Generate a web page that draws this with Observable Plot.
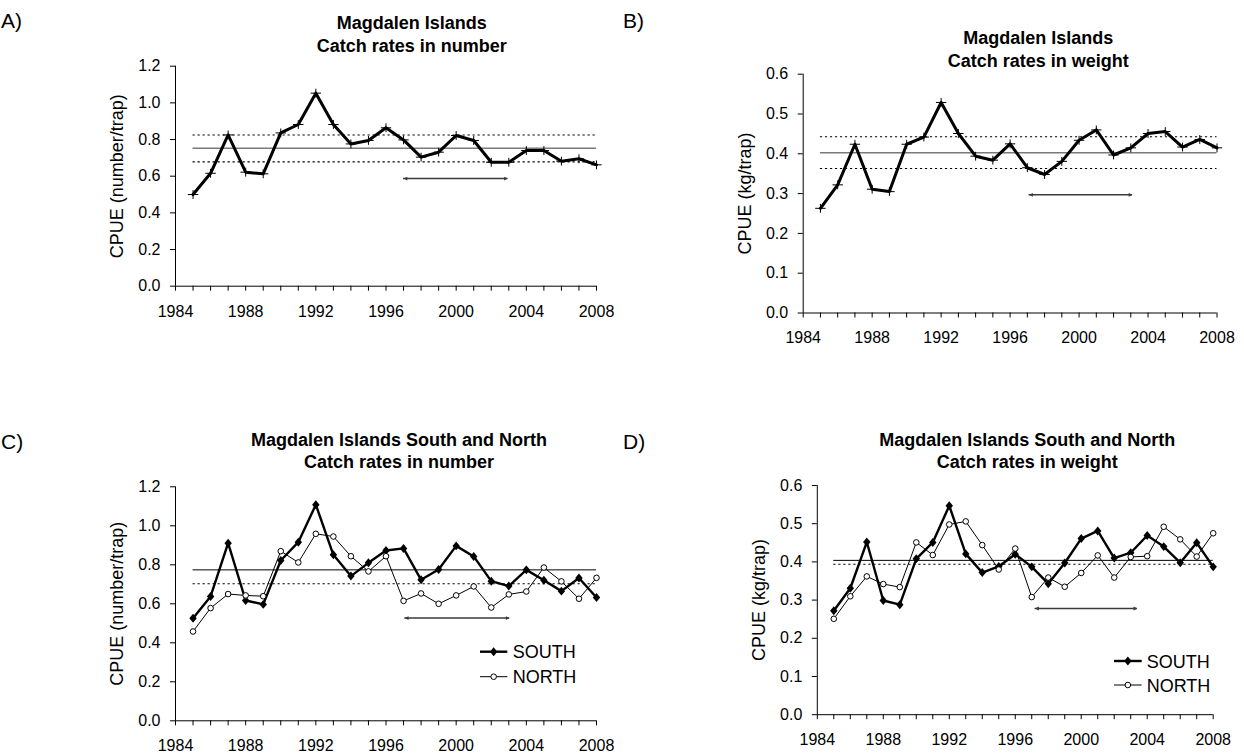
<!DOCTYPE html>
<html>
<head>
<meta charset="utf-8">
<script src="https://cdn.jsdelivr.net/npm/d3@7"></script>
<script src="https://cdn.jsdelivr.net/npm/@observablehq/plot@0.6"></script>
<style>
html, body { margin: 0; padding: 0; background: #fff; overflow: hidden; }
#root { position: relative; width: 1244px; height: 755px; font-family: "Liberation Sans", Arial, Helvetica, sans-serif; color: #000; }
.title { position: absolute; font-weight: bold; font-size: 18px; line-height: 22.5px; text-align: center; white-space: nowrap; transform: translateX(-50%); }
.letter { position: absolute; font-size: 21px; line-height: 24px; white-space: nowrap; }
</style>
</head>
<body>
<div id="root"></div>
<script>
// ---------------- data ----------------
const years = [1985, 1986, 1987, 1988, 1989, 1990, 1991, 1992, 1993, 1994, 1995, 1996,
               1997, 1998, 1999, 2000, 2001, 2002, 2003, 2004, 2005, 2006, 2007, 2008];

// A) Magdalen Islands, catch rates in number (number/trap)
const numberAll = [0.500, 0.616, 0.825, 0.622, 0.613, 0.836, 0.882, 1.053, 0.882, 0.776, 0.795, 0.864,
                   0.798, 0.704, 0.731, 0.822, 0.795, 0.676, 0.676, 0.740, 0.740, 0.682, 0.695, 0.662];
// B) Magdalen Islands, catch rates in weight (kg/trap)
const weightAll = [0.263, 0.322, 0.424, 0.311, 0.305, 0.424, 0.442, 0.529, 0.451, 0.394, 0.384, 0.425,
                   0.365, 0.348, 0.381, 0.434, 0.460, 0.397, 0.415, 0.451, 0.456, 0.417, 0.436, 0.415];
// C) South and North, number
const numberSouth = [0.526, 0.638, 0.911, 0.617, 0.597, 0.822, 0.916, 1.108, 0.851, 0.742, 0.810, 0.873,
                     0.884, 0.723, 0.776, 0.897, 0.843, 0.716, 0.691, 0.774, 0.721, 0.665, 0.732, 0.632];
const numberNorth = [0.458, 0.578, 0.650, 0.643, 0.639, 0.870, 0.812, 0.959, 0.945, 0.844, 0.766, 0.844,
                     0.615, 0.653, 0.600, 0.643, 0.689, 0.581, 0.648, 0.663, 0.786, 0.715, 0.626, 0.733];
// D) South and North, weight
const weightSouth = [0.272, 0.331, 0.452, 0.299, 0.288, 0.408, 0.451, 0.547, 0.421, 0.372, 0.388, 0.420,
                     0.387, 0.343, 0.397, 0.461, 0.481, 0.410, 0.424, 0.469, 0.440, 0.398, 0.450, 0.387];
const weightNorth = [0.251, 0.310, 0.362, 0.342, 0.334, 0.451, 0.418, 0.498, 0.506, 0.444, 0.380, 0.435,
                     0.308, 0.359, 0.335, 0.371, 0.417, 0.359, 0.413, 0.415, 0.492, 0.459, 0.414, 0.475];

// reference levels (mean = solid, bounds = dotted)
const refA = [{kind: "mean", y: 0.753}, {kind: "bound", y: 0.825}, {kind: "bound", y: 0.678}];
const refB = [{kind: "mean", y: 0.4025}, {kind: "bound", y: 0.443}, {kind: "bound", y: 0.363}];
const refC = [{kind: "mean", y: 0.774}, {kind: "bound", y: 0.703}];
const refD = [{kind: "mean", y: 0.404}, {kind: "bound", y: 0.394}];

// reference-period arrows: [start year, end year, level]
const arrowA = [1997.0, 2002.95, 0.587];
const arrowB = [1997.1, 2003.1, 0.297];
const arrowC = [1997.07, 2003.05, 0.527];
const arrowD = [1997.2, 2003.4, 0.278];

// ticks
const xLabelTicks = [1984, 1988, 1992, 1996, 2000, 2004, 2008];
const xMinorTicks = [1984, 1985, 1986, 1987, 1988, 1989, 1990, 1991, 1992, 1993, 1994, 1995, 1996,
                     1997, 1998, 1999, 2000, 2001, 2002, 2003, 2004, 2005, 2006, 2007, 2008];
const yTicksNumber = [0, 0.2, 0.4, 0.6, 0.8, 1.0, 1.2];
const yTicksWeight = [0, 0.1, 0.2, 0.3, 0.4, 0.5, 0.6];

const titles = {
  A: ["Magdalen Islands", "Catch rates in number"],
  B: ["Magdalen Islands", "Catch rates in weight"],
  C: ["Magdalen Islands South and North", "Catch rates in number"],
  D: ["Magdalen Islands South and North", "Catch rates in weight"]
};
const seriesNames = ["SOUTH", "NORTH"];

// ---------------- helpers ----------------
const FONT = "'Liberation Sans', Arial, Helvetica, sans-serif";
const root = document.getElementById("root");
const rows = (vals) => years.map((year, i) => ({year, value: vals[i]}));

const plusSymbol = {draw(c, s) { const r = Math.sqrt(s / Math.PI); c.moveTo(-r, 0); c.lineTo(r, 0); c.moveTo(0, -r * 0.85); c.lineTo(0, r * 0.85); }};
const diamondSymbol = {draw(c, s) { const r = Math.sqrt(s / Math.PI); c.moveTo(0, -r * 1.15); c.lineTo(r * 0.95, 0); c.lineTo(0, r * 1.15); c.lineTo(-r * 0.95, 0); c.closePath(); }};
const headSymbol = {draw(c, s) { const r = Math.sqrt(s / Math.PI); c.moveTo(0, 0); c.lineTo(-2 * r, -r); c.lineTo(-2 * r, r); c.closePath(); }};

function makePanel(cfg) {
  const x1 = years[0], x2 = years[years.length - 1];
  const refRows = cfg.refs.map((d) => ({...d, x1, x2}));
  const arr = [{x1: cfg.arrow[0], x2: cfg.arrow[1], y: cfg.arrow[2]}];
  const heads = [{x: cfg.arrow[1], y: cfg.arrow[2], rot: 0}, {x: cfg.arrow[0], y: cfg.arrow[2], rot: 180}];
  const marks = [
    Plot.ruleY(refRows.filter((d) => d.kind === "mean"), {y: "y", x1: "x1", x2: "x2", stroke: cfg.meanColor, strokeWidth: cfg.meanWidth}),
    Plot.ruleY(refRows.filter((d) => d.kind === "bound"), {y: "y", x1: "x1", x2: "x2", stroke: "#000", strokeWidth: 1.1, strokeDasharray: "2.2,2.8"}),
    Plot.ruleY(arr, {y: "y", x1: "x1", x2: "x2", stroke: "#3a3a3a", strokeWidth: 1.5}),
    Plot.dot(heads, {x: "x", y: "y", rotate: "rot", symbol: headSymbol, r: 1.9, fill: "#3a3a3a", stroke: "none"}),
    Plot.ruleX([1984], {stroke: "#000", strokeWidth: 1}),
    Plot.ruleY([0], {stroke: "#000", strokeWidth: 1}),
    Plot.axisX({ticks: xMinorTicks, tickSize: 5, tickPadding: 14,
      tickFormat: (d) => (xLabelTicks.includes(d) ? String(d) : ""), label: null, stroke: "#000"}),
    Plot.axisY({ticks: cfg.yTicks, tickSize: 5, tickPadding: 10, tickFormat: (d) => d.toFixed(1), label: null, stroke: "#000"}),
    Plot.axisY({ticks: [], tickSize: 0, label: cfg.yLabel, labelAnchor: "center", labelOffset: 65, labelArrow: false, fontSize: 18})
  ];
  if (cfg.single) {
    marks.push(
      Plot.line(rows(cfg.single), {x: "year", y: "value", stroke: "#000", strokeWidth: 3}),
      Plot.dot(rows(cfg.single), {x: "year", y: "value", symbol: plusSymbol, r: 5.2, stroke: "#000", strokeWidth: 1, fill: "none"})
    );
  } else {
    marks.push(
      Plot.line(rows(cfg.south), {x: "year", y: "value", stroke: "#000", strokeWidth: 2.4}),
      Plot.dot(rows(cfg.south), {x: "year", y: "value", symbol: diamondSymbol, r: 3.9, fill: "#000", stroke: "none"}),
      Plot.line(rows(cfg.north), {x: "year", y: "value", stroke: "#000", strokeWidth: 1}),
      Plot.dot(rows(cfg.north), {x: "year", y: "value", symbol: "circle", r: 2.8, fill: "#fff", stroke: "#000", strokeWidth: 1})
    );
  }
  const svg = Plot.plot({
    width: cfg.w, height: cfg.h,
    marginLeft: cfg.mL, marginRight: cfg.mR, marginTop: cfg.mT, marginBottom: cfg.mB,
    x: {domain: [1984, 2008]},
    y: {domain: cfg.yDomain},
    style: {fontFamily: FONT, fontSize: "16px", color: "#000", background: "transparent", overflow: "visible"},
    marks
  });
  svg.style.position = "absolute";
  svg.style.left = cfg.left + "px";
  svg.style.top = cfg.top + "px";
  root.appendChild(svg);
}

function addTitle(lines, cx, top) {
  const d = document.createElement("div");
  d.className = "title";
  d.style.left = cx + "px";
  d.style.top = top + "px";
  d.innerHTML = lines.join("<br>");
  root.appendChild(d);
}
function addLetter(text, left, top) {
  const d = document.createElement("div");
  d.className = "letter";
  d.style.left = left + "px";
  d.style.top = top + "px";
  d.textContent = text;
  root.appendChild(d);
}

// ---------------- panels ----------------
makePanel({left: 0, top: 0, w: 622, h: 377, mL: 175, mR: 26, mT: 65.7, mB: 91.3,
  yDomain: [0, 1.2], yTicks: yTicksNumber, yLabel: "CPUE (number/trap)",
  single: numberAll, refs: refA, arrow: arrowA, meanColor: "#7a7a7a", meanWidth: 1.5});
makePanel({left: 622, top: 0, w: 622, h: 377, mL: 180.7, mR: 27.5, mT: 73.7, mB: 64.5,
  yDomain: [0, 0.6], yTicks: yTicksWeight, yLabel: "CPUE (kg/trap)",
  single: weightAll, refs: refB, arrow: arrowB, meanColor: "#7a7a7a", meanWidth: 1.5});
makePanel({left: 0, top: 377, w: 622, h: 378, mL: 175, mR: 26, mT: 109.3, mB: 34.7,
  yDomain: [0, 1.2], yTicks: yTicksNumber, yLabel: "CPUE (number/trap)",
  south: numberSouth, north: numberNorth, refs: refC, arrow: arrowC, meanColor: "#000", meanWidth: 1});
makePanel({left: 622, top: 377, w: 622, h: 378, mL: 194.8, mR: 31.3, mT: 108, mB: 40.8,
  yDomain: [0, 0.6], yTicks: yTicksWeight, yLabel: "CPUE (kg/trap)",
  south: weightSouth, north: weightNorth, refs: refD, arrow: arrowD, meanColor: "#000", meanWidth: 1});

addTitle(titles.A, 411.7, 12);
addTitle(titles.B, 1038.3, 27);
addTitle(titles.C, 399, 428.5);
addTitle(titles.D, 1027.2, 428.5);

addLetter("A)", 1, 9);
addLetter("B)", 623, 9);
addLetter("C)", 1, 430);
addLetter("D)", 623, 430);

// ---------------- legends (C and D) ----------------
const overlay = d3.select(root).append("svg")
  .attr("width", 1244).attr("height", 755)
  .style("position", "absolute").style("left", "0px").style("top", "0px")
  .style("pointer-events", "none").style("font-family", FONT);

function legend(lx0, lx1, tx, ySouth, yNorth) {
  const mx = (lx0 + lx1) / 2;
  const g = overlay.append("g");
  // SOUTH
  g.append("line").attr("x1", lx0).attr("x2", lx1).attr("y1", ySouth).attr("y2", ySouth).attr("stroke", "#000").attr("stroke-width", 2.4);
  const p = d3.path(); diamondSymbol.draw(p, 3.9 * 3.9 * Math.PI);
  g.append("path").attr("d", p.toString()).attr("transform", `translate(${mx},${ySouth})`).attr("fill", "#000");
  g.append("text").attr("x", tx).attr("y", ySouth + 6.5).attr("font-size", 18).text(seriesNames[0]);
  // NORTH
  g.append("line").attr("x1", lx0).attr("x2", lx1).attr("y1", yNorth).attr("y2", yNorth).attr("stroke", "#000").attr("stroke-width", 1);
  g.append("circle").attr("cx", mx).attr("cy", yNorth).attr("r", 2.8).attr("fill", "#fff").attr("stroke", "#000");
  g.append("text").attr("x", tx).attr("y", yNorth + 6.5).attr("font-size", 18).text(seriesNames[1]);
}
legend(480, 507.3, 512.7, 651.7, 676.7);
legend(1114, 1141.7, 1146.7, 661, 685);
</script>
</body>
</html>
